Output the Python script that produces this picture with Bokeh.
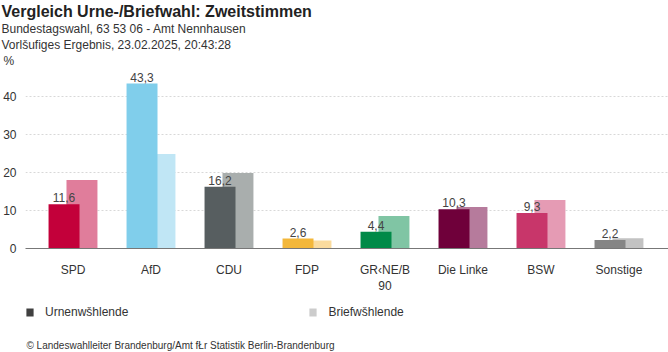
from bokeh.plotting import figure
from bokeh.layouts import column
from bokeh.models import (ColumnDataSource, FixedTicker, Range1d, Title, Legend, LegendItem)
from bokeh.core.properties import value
from bokeh.embed import file_html
from bokeh.resources import INLINE

# ---- data ----
parties = ["SPD", "AfD", "CDU", "FDP", "GR\u2039NE/B\n90", "Die Linke", "BSW", "Sonstige"]
urne = [11.6, 43.3, 16.2, 2.6, 4.4, 10.3, 9.3, 2.2]
brief = [18.0, 24.8, 19.8, 2.1, 8.5, 10.9, 12.7, 2.7]
urne_labels = ["11,6", "43,3", "16,2", "2,6", "4,4", "10,3", "9,3", "2,2"]
urne_colors = ["#C3003A", "#80CEEB", "#575E60", "#F3B73A", "#008A48", "#6F003A", "#C8366A", "#858585"]
brief_colors = ["#E07D9B", "#C0E6F5", "#A9AEAD", "#FADB9E", "#80C5A4", "#B67B9C", "#E59BB4", "#C2C2C2"]
y_ticks = [0, 10, 20, 30, 40]
series_names = ["Urnenw\u0161hlende", "Briefw\u0161hlende"]
legend_colors = ["#404040", "#cccccc"]
title_text = "Vergleich Urne-/Briefwahl: Zweitstimmen"
subtitle1 = "Bundestagswahl, 63 53 06 - Amt Nennhausen"
subtitle2 = "Vorl\u0161ufiges Ergebnis, 23.02.2025, 20:43:28"
unit_text = "%"
footer_text = "\u00a9 Landeswahlleiter Brandenburg/Amt f\u0141r Statistik Berlin-Brandenburg"

FONT = "Liberation Sans"
W = 668
H1, H2 = 296, 56

idx = list(range(len(parties)))
src_u = ColumnDataSource(dict(x=[i - 0.115 for i in idx], top=urne, color=urne_colors, lab=urne_labels))
src_b = ColumnDataSource(dict(x=[i + 0.115 for i in idx], top=brief, color=brief_colors))

p = figure(width=W, height=H1, output_backend="svg", toolbar_location=None,
           x_range=Range1d(-0.609, 7.635), y_range=Range1d(0, 47.5),
           min_border_left=25, min_border_right=0, min_border_top=0, min_border_bottom=47)
p.outline_line_color = None
p.background_fill_color = "white"
p.border_fill_color = "white"

p.vbar(x="x", top="top", width=0.397, bottom=0, color="color", source=src_b, line_color=None)
p.vbar(x="x", top="top", width=0.397, bottom=0, color="color", source=src_u, line_color=None)
p.text(x="x", y="top", text="lab", source=src_u, text_align="center", text_baseline="bottom",
       y_offset=-2, text_font_size="12px", text_color="#444444", text_font=value(FONT))

# axes
p.xaxis.ticker = FixedTicker(ticks=idx)
p.xaxis.major_label_overrides = {i: parties[i] for i in idx}
p.xaxis.major_tick_line_color = None
p.xaxis.minor_tick_line_color = None
p.xaxis.axis_line_color = "#777777"
p.xaxis.major_label_text_font = FONT
p.xaxis.major_label_text_font_size = "12px"
p.xaxis.major_label_text_color = "#333333"
p.xaxis.major_label_standoff = 8

p.yaxis.ticker = FixedTicker(ticks=y_ticks)
p.yaxis.axis_line_color = None
p.yaxis.major_tick_line_color = None
p.yaxis.minor_tick_line_color = None
p.yaxis.major_label_text_font = FONT
p.yaxis.major_label_text_font_size = "12px"
p.yaxis.major_label_text_color = "#333333"
p.yaxis.major_label_standoff = 3

p.xgrid.grid_line_color = None
p.ygrid.grid_line_color = "#d8d8d8"
p.ygrid.grid_line_dash = "2 2"

def title(text, size, offset, bold=False, color="#333333"):
    p.add_layout(Title(text=text, text_font=FONT, text_font_size=size, align="left",
                       offset=offset, standoff=0, text_color=color,
                       text_font_style="bold" if bold else "normal"), "above")

# above: added nearest-first
title(unit_text, "12px", -22)
title(subtitle2, "12px", -24)
title(subtitle1, "12px", -24)
title(title_text, "16px", -24, bold=True, color="#222222")

# ---- bottom strip: legend + source note ----
p2 = figure(width=W, height=H2, output_backend="svg", toolbar_location=None,
            x_range=Range1d(0, W), y_range=Range1d(0, H2),
            min_border=0, x_axis_location=None, y_axis_location=None)
p2.outline_line_color = None
p2.grid.grid_line_color = None
p2.background_fill_color = "white"
p2.border_fill_color = "white"

dummies = [p2.vbar(x=[0], top=[0], bottom=[0], width=0.01, fill_color=c, line_color=None)
           for c in legend_colors]
leg = Legend(items=[LegendItem(label=n, renderers=[r]) for n, r in zip(series_names, dummies)],
             orientation="horizontal", location=(0, 33), glyph_width=9, glyph_height=10,
             label_standoff=11, spacing=180, padding=0, margin=0,
             label_text_font=FONT, label_text_font_size="12px", label_text_color="#333333",
             label_height=12, border_line_color=None, background_fill_alpha=0)
p2.add_layout(leg, "center")

src_f = ColumnDataSource(dict(x=[1], y=[7], t=[footer_text]))
p2.text(x="x", y="y", text="t", source=src_f, text_align="left", text_baseline="alphabetic",
        text_font_size="10px", text_color="#333333", text_font=value(FONT))

open("out.html", "w").write(file_html(column(p, p2, spacing=0), INLINE))
